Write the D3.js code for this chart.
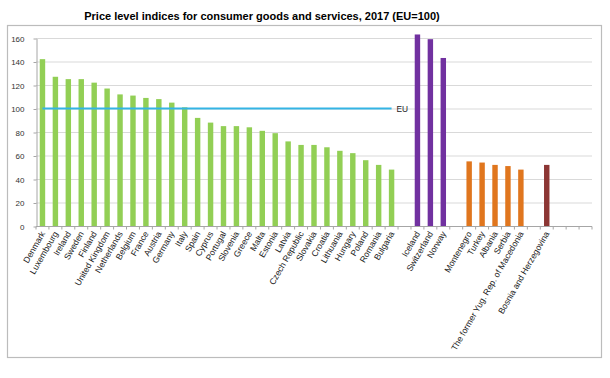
<!DOCTYPE html>
<html>
<head>
<meta charset="utf-8">
<script src="https://cdn.jsdelivr.net/npm/d3@7"></script>
<style>
  body { margin: 0; background: #fff; }
  svg { font-family: "Liberation Sans", Arial, sans-serif; }
</style>
</head>
<body>
<svg id="chart" width="610" height="378"></svg>
<script>
// data
var euCountries = ['Denmark', 'Luxembourg', 'Ireland', 'Sweden', 'Finland', 'United Kingdom',
  'Netherlands', 'Belgium', 'France', 'Austria', 'Germany', 'Italy', 'Spain', 'Cyprus',
  'Portugal', 'Slovenia', 'Greece', 'Malta', 'Estonia', 'Latvia', 'Czech Republic',
  'Slovakia', 'Croatia', 'Lithuania', 'Hungary', 'Poland', 'Romania', 'Bulgaria']
var euValues = [142, 127, 125, 125, 122, 117, 112, 111, 109, 108, 105, 101, 92, 88,
  85, 85, 84, 81, 79, 72, 69, 69, 67, 64, 62, 56, 52, 48]
var eftaCountries = ['Iceland', 'Switzerland', 'Norway']
var eftaValues = [163, 159, 143]
var candCountries = ['Montenegro', 'Turkey', 'Albania', 'Serbia', 'The former Yug. Rep. of Macedonia']
var candValues = [55, 54, 52, 51, 48]
var potCountries = ['Bosnia and Herzegovina']
var potValues = [52]
var euLevel = 100
var yTicks = [0, 20, 40, 60, 80, 100, 120, 140, 160]

// colours
var colorEU = '#92cf55'
var colorEfta = '#7131a0'
var colorCand = '#e0761e'
var colorPot = '#8c3634'
var colorLine = '#34b4e4'
var colorGrid = '#d9d9d9'
var colorAxis = '#a6a6a6'

// build slot list (blank slots between groups, three at the end)
var slots = []
function addGroup(names, values, color) {
  names.forEach(function(n, i) { slots.push({ key: n, label: n, value: values[i], color: color }) })
}
function addBlank() { slots.push({ key: 'blank' + slots.length, label: '', value: null }) }
addGroup(euCountries, euValues, colorEU)
addBlank()
addGroup(eftaCountries, eftaValues, colorEfta)
addBlank()
addGroup(candCountries, candValues, colorCand)
addBlank()
addGroup(potCountries, potValues, colorPot)
addBlank(); addBlank(); addBlank()

var svg = d3.select('#chart')
var plotLeft = 36, plotRight = 592, plotTop = 38, plotBottom = 226

// frame
svg.append('rect')
  .attr('x', 7.5).attr('y', 25.5).attr('width', 594).attr('height', 332)
  .attr('fill', 'none').attr('stroke', '#bcbcbc').attr('stroke-width', 1.2)

// title
svg.append('text')
  .attr('x', 262).attr('y', 20)
  .attr('text-anchor', 'middle')
  .attr('font-size', 11).attr('font-weight', 'bold').attr('fill', '#000')
  .text('Price level indices for consumer goods and services, 2017 (EU=100)')

var x = d3.scaleBand()
  .domain(slots.map(function(d) { return d.key }))
  .range([plotLeft, plotRight])
  .paddingInner(0.58).paddingOuter(0.29)
var xSlot = d3.scaleBand()
  .domain(slots.map(function(d) { return d.key }))
  .range([plotLeft, plotRight])
var y = d3.scaleLinear().domain([0, 160]).range([plotBottom, plotTop])

// gridlines
svg.append('g').selectAll('line')
  .data(yTicks.slice(1))
  .enter().append('line')
  .attr('x1', plotLeft).attr('x2', plotRight)
  .attr('y1', function(d) { return y(d) + 0.5 }).attr('y2', function(d) { return y(d) + 0.5 })
  .attr('stroke', colorGrid).attr('stroke-width', 1)

// y axis
var yAxis = svg.append('g')
  .attr('transform', 'translate(' + (plotLeft + 0.5) + ',0.5)')
  .call(d3.axisLeft(y).tickValues(yTicks).tickSize(3).tickPadding(9).tickSizeOuter(0))
yAxis.selectAll('path, line').attr('stroke', colorAxis)
yAxis.selectAll('text').attr('font-size', 8).attr('fill', '#333')
  .attr('font-family', '"Liberation Sans", Arial, sans-serif')

// bars
svg.append('g').selectAll('rect')
  .data(slots.filter(function(d) { return d.value !== null }))
  .enter().append('rect')
  .attr('x', function(d) { return x(d.key) })
  .attr('width', x.bandwidth())
  .attr('y', function(d) { return y(d.value) })
  .attr('height', function(d) { return y(0) - y(d.value) })
  .attr('fill', function(d) { return d.color })

// x axis with ticks between slots
var xg = svg.append('g').attr('transform', 'translate(0,' + (plotBottom + 0.5) + ')')
xg.append('line').attr('x1', plotLeft).attr('x2', plotRight).attr('stroke', colorAxis)
xg.selectAll('line.tick')
  .data(slots.map(function(d) { return d.key }).concat(['end']))
  .enter().append('line')
  .attr('class', 'tick')
  .attr('x1', function(d) { return d === 'end' ? plotRight : xSlot(d) })
  .attr('x2', function(d) { return d === 'end' ? plotRight : xSlot(d) })
  .attr('y1', 0).attr('y2', 3)
  .attr('stroke', colorAxis)

// rotated category labels
xg.selectAll('text')
  .data(slots.filter(function(d) { return d.label }))
  .enter().append('text')
  .attr('transform', function(d) {
    return 'translate(' + (xSlot(d.key) + xSlot.bandwidth() / 2 + 3) + ',7) rotate(-60)'
  })
  .attr('text-anchor', 'end')
  .attr('font-size', 8.6).attr('fill', '#222')
  .text(function(d) { return d.label })

// EU = 100 line
var first = euCountries[0], last = euCountries[euCountries.length - 1]
svg.append('line')
  .attr('x1', xSlot(first) + xSlot.bandwidth() / 2)
  .attr('x2', xSlot(last) + xSlot.bandwidth() / 2)
  .attr('y1', y(euLevel)).attr('y2', y(euLevel))
  .attr('stroke', colorLine).attr('stroke-width', 2.2)
svg.append('text')
  .attr('x', xSlot(last) + xSlot.bandwidth() / 2 + 5)
  .attr('y', y(euLevel) + 3)
  .attr('font-size', 8.3).attr('fill', '#222')
  .text('EU')
</script>
</body>
</html>
